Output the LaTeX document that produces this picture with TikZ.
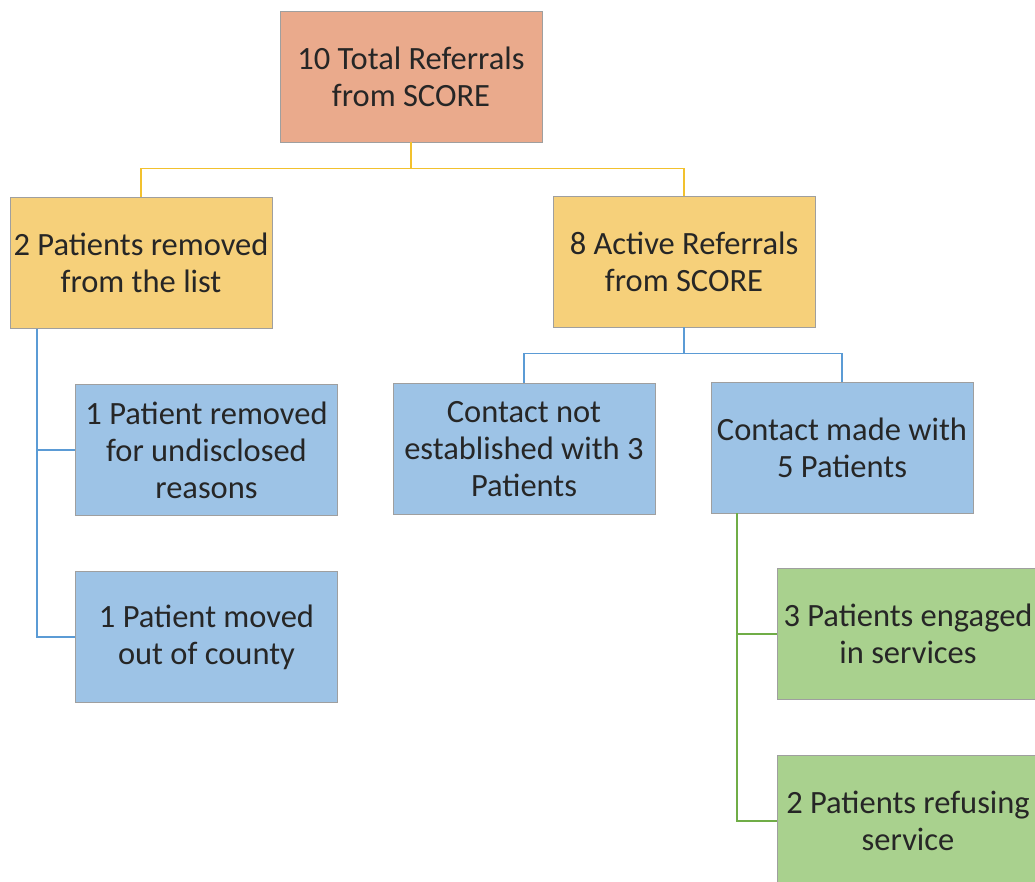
\documentclass[tikz,border=0pt]{standalone}
\usepackage{fontspec}
\setmainfont{Carlito}
\definecolor{RootClr}{HTML}{EAAA8C}
\definecolor{GoldClr}{HTML}{F6D07A}
\definecolor{SkyClr}{HTML}{9DC3E6}
\definecolor{LeafClr}{HTML}{A9D18E}
\definecolor{GoldLine}{HTML}{F2C12E}
\definecolor{SkyLine}{HTML}{5B9BD5}
\definecolor{LeafLine}{HTML}{70AD47}
\tikzset{
  box/.style={draw=gray!75,line width=0.8pt,minimum width=262pt,minimum height=131pt,
    inner sep=0pt,align=center,text=black!85,
    font=\fontsize{32.5}{37}\selectfont},
  link/.style={line width=1.8pt}
}

\begin{document}
\begin{tikzpicture}[x=1pt,y=-1pt]
\useasboundingbox (0,0) rectangle (1035,881);
\clip (0,0) rectangle (1035,881);

% level 1
\node[box,fill=RootClr] (total) at (411,76.5) {10 Total Referrals\\from SCORE};

% level 2
\node[box,fill=GoldClr] (removed) at (141,263) {2 Patients removed\\from the list};
\node[box,fill=GoldClr] (active) at (684,261.5) {8 Active Referrals\\from SCORE};

% level 3
\node[box,fill=SkyClr] (undisc) at (206.5,450) {1 Patient removed\\for undisclosed\\reasons};
\node[box,fill=SkyClr] (moved) at (206.5,637) {1 Patient moved\\out of county};
\node[box,fill=SkyClr] (nocontact) at (524,449) {Contact not\\established with 3\\Patients};
\node[box,fill=SkyClr] (contact) at (842,447.5) {Contact made with\\5 Patients};

% level 4
\node[box,fill=LeafClr] (engaged) at (908,634) {3 Patients engaged\\in services};
\node[box,fill=LeafClr] (refusing) at (908,821) {2 Patients refusing\\service};

% connectors
\draw[link,GoldLine] (total.south) -- ++(0,26) -| (removed.north);
\draw[link,GoldLine] (total.south) -- ++(0,26) -| (active.north);

\coordinate (removedfoot) at (37,329);
\draw[link,SkyLine] (removedfoot) |- (undisc.west);
\draw[link,SkyLine] (removedfoot) |- (moved.west);

\draw[link,SkyLine] (active.south) -- ++(0,26) -| (nocontact.north);
\draw[link,SkyLine] (active.south) -- ++(0,26) -| (contact.north);

\coordinate (contactfoot) at (737,513);
\draw[link,LeafLine] (contactfoot) |- (engaged.west);
\draw[link,LeafLine] (contactfoot) |- (refusing.west);

\end{tikzpicture}
\end{document}
